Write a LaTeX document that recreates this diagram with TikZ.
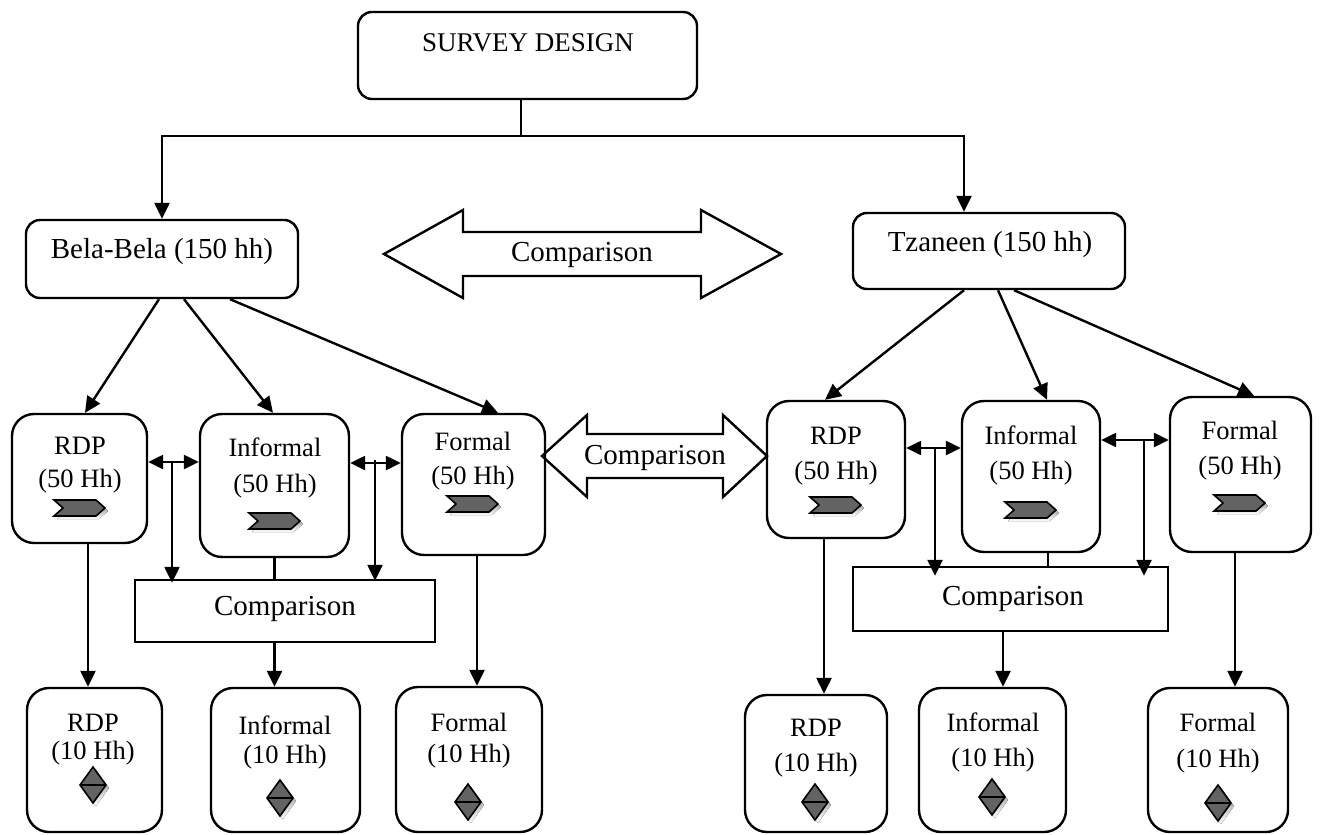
\documentclass[tikz,border=0pt]{standalone}
\usepackage{fontspec}
\setmainfont{Liberation Serif}
\usetikzlibrary{arrows.meta,fit,calc}
\definecolor{icon}{HTML}{636363}
\definecolor{shade}{HTML}{A8A8A8}
\begin{document}
\begin{tikzpicture}[x=1pt,y=-1pt,
  line width=2.4pt,
  box/.style={draw, rounded corners=14pt, inner sep=0pt},
  sbox/.style={draw, rounded corners=22pt, inner sep=0pt},
  cbox/.style={draw, inner sep=0pt},
  lbl/.style={font=\fontsize{26.5}{31}\selectfont, inner sep=0pt, anchor=base},
  big/.style={font=\fontsize{29}{34}\selectfont, inner sep=0pt},
  arr/.style={-{Triangle[length=16pt,width=15pt]}},
  darr/.style={{Triangle[length=15pt,width=14pt]}-{Triangle[length=15pt,width=14pt]}},
  chev/.pic={
    \fill[shade] (-23,-5) -- (19,-5) -- (28,3) -- (19,11) -- (-23,11) -- (-14,3) -- cycle;
    \filldraw[fill=icon, draw=black, line width=1.6pt] (-26,-8) -- (16,-8) -- (25,0) -- (16,8) -- (-26,8) -- (-17,0) -- cycle;
  },
  dia/.pic={
    \fill[shade] (3,-15) -- (16,3) -- (3,21) -- (-10,3) -- cycle;
    \filldraw[fill=icon, draw=black, line width=1.6pt] (0,-18) -- (13,0) -- (0,18) -- (-13,0) -- cycle;
    \draw[line width=1.6pt] (-13,0) -- (13,0);
  }
]
\useasboundingbox (0,0) rectangle (1323,835);

% top
\node[box, fit={(358,12)(697,99)}] (survey) {};
\node[font=\fontsize{27}{32}\selectfont, inner sep=0pt] (surveyt) at (528,43) {SURVEY DESIGN};
\node[box, fit={(26,220)(298,298)}] (bela) {};
\node[big] (belat) at (162,252) {Bela-Bela (150 hh)};
\node[box, fit={(853,213)(1125,289)}] (tz) {};
\node[big] (tzt) at (990,245) {Tzaneen (150 hh)};
\coordinate (j) at (521,136);
\coordinate (tzin) at ([xshift=-25pt]tz.north);
\draw (survey.south -| j) -- (j);
\draw[arr] (j) -| (bela.north);
\draw[arr] (j) -| (tzin);

% big comparison arrow
\draw (384,254) -- (463,210) -- (463,232) -- (701,232) -- (701,210) -- (781,254)
  -- (701,298) -- (701,276) -- (463,276) -- (463,298) -- cycle;
\node[big] (cmpTop) at (582,255) {Comparison};

% left second level
\node[sbox, fit={(12,414)(147,543)}] (rdpL) {};
\node[lbl] (t1) at (80,454) {RDP};
\node[lbl] (t2) at (80,487) {(50 Hh)};
\pic at (80,508) {chev};
\node[sbox, fit={(200,414)(349,557)}] (infL) {};
\node[lbl] (t3) at (275,456) {Informal};
\node[lbl] (t4) at (275,492) {(50 Hh)};
\pic at (275,521) {chev};
\node[sbox, fit={(402,414)(545,555)}] (forL) {};
\node[lbl] (t5) at (473,450) {Formal};
\node[lbl] (t6) at (473,484) {(50 Hh)};
\pic at (473,504) {chev};

\draw[arr] ([xshift=-3pt]bela.south) -- ([xshift=5.5pt]rdpL.north);
\draw[arr] ([xshift=22pt]bela.south) -- ([xshift=-1.5pt]infL.north);
\draw[arr] ([xshift=68pt]bela.south) -- ([xshift=24.5pt]forL.north);

% middle comparison arrow
\draw (542,456) -- (587,415) -- (587,434) -- (723,434) -- (723,415) -- (767,456)
  -- (723,497) -- (723,478) -- (587,478) -- (587,497) -- cycle;
\node[big] (cmpMid) at (655,458) {Comparison};

% left comparison
\node[cbox, fit={(135,580)(435,642)}] (cmpL) {};
\node[big] (cmpLt) at (285,609) {Comparison};
\coordinate (dl1) at (172,462);
\coordinate (dl2) at (375,463);
\draw[darr] (rdpL.east |- dl1) -- (infL.west |- dl1);
\draw[darr] (infL.east |- dl2) -- (forL.west |- dl2);
\draw[arr] (dl1) -- ([yshift=-4pt]cmpL.north -| dl1);
\draw[arr] ([yshift=3pt]dl2) -- ([yshift=-2pt]cmpL.north -| dl2);
\draw (infL.south) -- (cmpL.north -| infL.south);

% left bottom
\node[sbox, fit={(27,688)(162,832)}] (rdpL2) {};
\node[lbl] (t7) at (93,731) {RDP};
\node[lbl] (t8) at (93,759) {(10 Hh)};
\pic at (93,785) {dia};
\node[sbox, fit={(211,688)(360,832)}] (infL2) {};
\node[lbl] (t9) at (285,734) {Informal};
\node[lbl] (t10) at (285,763) {(10 Hh)};
\pic at (280,798) {dia};
\node[sbox, fit={(396,687)(542,832)}] (forL2) {};
\node[lbl] (t11) at (469,731) {Formal};
\node[lbl] (t12) at (469,762) {(10 Hh)};
\pic at (468,802) {dia};

\draw[arr] (rdpL.south -| 88,0) -- (rdpL2.north -| 88,0);
\draw[arr] (cmpL.south -| infL.south) -- (infL2.north -| infL.south);
\draw[arr] (forL.south -| 477,0) -- (forL2.north -| 477,0);

% right second level
\node[sbox, fit={(767,401)(905,538)}] (rdpR) {};
\node[lbl] (t13) at (836,444) {RDP};
\node[lbl] (t14) at (836,479) {(50 Hh)};
\pic at (836,505) {chev};
\node[sbox, fit={(962,401)(1100,552)}] (infR) {};
\node[lbl] (t15) at (1031,444) {Informal};
\node[lbl] (t16) at (1031,479) {(50 Hh)};
\pic at (1031,510) {chev};
\node[sbox, fit={(1170,397)(1311,552)}] (forR) {};
\node[lbl] (t17) at (1240,439) {Formal};
\node[lbl] (t18) at (1240,474) {(50 Hh)};
\pic at (1240,503) {chev};

\draw[arr] ([xshift=-25pt]tz.south) -- ([xshift=-11pt]rdpR.north);
\draw[arr] ([xshift=9pt]tz.south) -- ([xshift=16pt]infR.north);
\draw[arr] ([xshift=25pt]tz.south) -- ([xshift=13.5pt]forR.north);

% right comparison
\node[cbox, fit={(853,567)(1168,631)}] (cmpR) {};
\node[big] (cmpRt) at (1013,599) {Comparison};
\coordinate (dr1) at (935,448);
\coordinate (dr2) at (1144,440);
\draw[darr] (rdpR.east |- dr1) -- (infR.west |- dr1);
\draw[darr] (infR.east |- dr2) -- (forR.west |- dr2);
\draw[arr] (dr1) -- ([yshift=-10pt]cmpR.north -| dr1);
\draw[arr] (dr2) -- ([yshift=-10pt]cmpR.north -| dr2);
\draw (infR.south -| 1048,0) -- (cmpR.north -| 1048,0);

% right bottom
\node[sbox, fit={(745,695)(887,832)}] (rdpR2) {};
\node[lbl] (t19) at (816,736) {RDP};
\node[lbl] (t20) at (816,771) {(10 Hh)};
\pic at (815,802) {dia};
\node[sbox, fit={(919,688)(1066,832)}] (infR2) {};
\node[lbl] (t21) at (993,731) {Informal};
\node[lbl] (t22) at (993,766) {(10 Hh)};
\pic at (992,797) {dia};
\node[sbox, fit={(1148,688)(1288,832)}] (forR2) {};
\node[lbl] (t23) at (1218,731) {Formal};
\node[lbl] (t24) at (1218,767) {(10 Hh)};
\pic at (1218,803) {dia};

\draw[arr] (rdpR.south -| 824,0) -- (rdpR2.north -| 824,0);
\draw[arr] (cmpR.south -| 1003,0) -- (infR2.north -| 1003,0);
\draw[arr] (forR.south -| 1235,0) -- (forR2.north -| 1235,0);
\end{tikzpicture}
\end{document}
